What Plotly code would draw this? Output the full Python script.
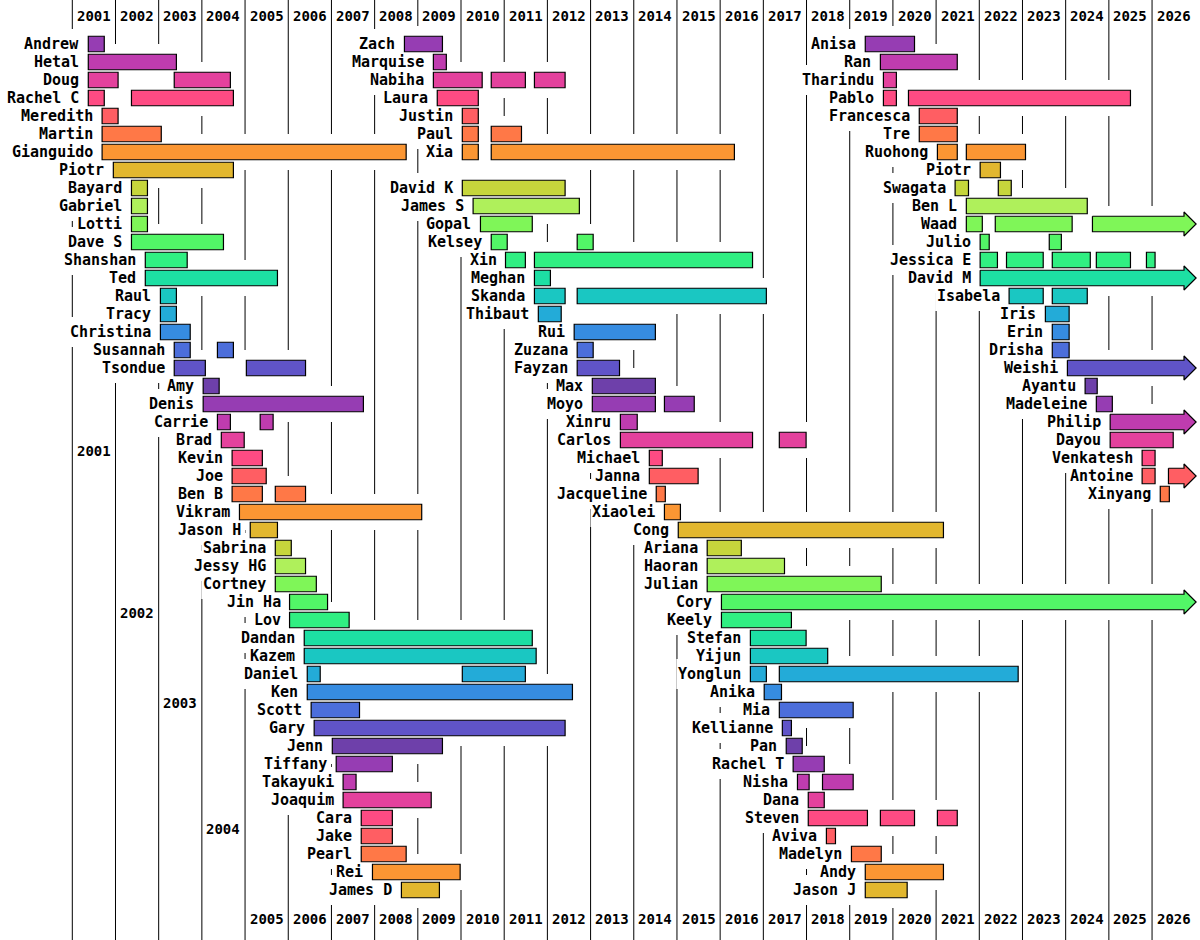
import math
import plotly.graph_objects as go

# ---- data -------------------------------------------------------------
years = list(range(2001, 2027))

# each group fills rows from the top; "" leaves a row empty
# a span end of None means "still going" (drawn as an arrow)
left_names = ["Andrew", "Hetal", "Doug", "Rachel C", "Meredith", "Martin", "Gianguido", "Piotr",
              "Bayard", "Gabriel", "Lotti", "Dave S", "Shanshan", "Ted", "Raul", "Tracy",
              "Christina", "Susannah", "Tsondue", "Amy", "Denis", "Carrie", "Brad", "Kevin",
              "Joe", "Ben B", "Vikram", "Jason H", "Sabrina", "Jessy HG", "Cortney", "Jin Ha",
              "Lov", "Dandan", "Kazem", "Daniel", "Ken", "Scott", "Gary", "Jenn",
              "Tiffany", "Takayuki", "Joaquim", "Cara", "Jake", "Pearl", "Rei", "James D"]
left_spans = [
    [(2001.37, 2001.74)],
    [(2001.37, 2003.41)],
    [(2001.37, 2002.06), (2003.36, 2004.66)],
    [(2001.37, 2001.74), (2002.37, 2004.73)],
    [(2001.69, 2002.06)],
    [(2001.69, 2003.06)],
    [(2001.69, 2008.73)],
    [(2001.95, 2004.73)],
    [(2002.37, 2002.74)],
    [(2002.37, 2002.74)],
    [(2002.37, 2002.74)],
    [(2002.37, 2004.50)],
    [(2002.69, 2003.66)],
    [(2002.69, 2005.75)],
    [(2003.04, 2003.41)],
    [(2003.04, 2003.41)],
    [(2003.04, 2003.73)],
    [(2003.36, 2003.73), (2004.36, 2004.73)],
    [(2003.36, 2004.08), (2005.03, 2006.40)],
    [(2004.03, 2004.40)],
    [(2004.03, 2007.74)],
    [(2004.36, 2004.66), (2005.35, 2005.65)],
    [(2004.45, 2004.98)],
    [(2004.70, 2005.40)],
    [(2004.70, 2005.49)],
    [(2004.70, 2005.40), (2005.70, 2006.40)],
    [(2004.87, 2009.09)],
    [(2005.12, 2005.75)],
    [(2005.70, 2006.07)],
    [(2005.70, 2006.40)],
    [(2005.70, 2006.65)],
    [(2006.03, 2006.91)],
    [(2006.03, 2007.41)],
    [(2006.37, 2011.65)],
    [(2006.37, 2011.74)],
    [(2006.44, 2006.74), (2010.03, 2011.49)],
    [(2006.44, 2012.58)],
    [(2006.53, 2007.65)],
    [(2006.60, 2012.41)],
    [(2007.02, 2009.57)],
    [(2007.11, 2008.41)],
    [(2007.27, 2007.57)],
    [(2007.27, 2009.31)],
    [(2007.69, 2008.41)],
    [(2007.69, 2008.41)],
    [(2007.69, 2008.73)],
    [(2007.95, 2009.98)],
    [(2008.62, 2009.50)],
]

middle_names = ["Zach", "Marquise", "Nabiha", "Laura", "Justin", "Paul", "Xia", "",
                "David K", "James S", "Gopal", "Kelsey", "Xin", "Meghan", "Skanda", "Thibaut",
                "Rui", "Zuzana", "Fayzan", "Max", "Moyo", "Xinru", "Carlos", "Michael",
                "Janna", "Jacqueline", "Xiaolei", "Cong", "Ariana", "Haoran", "Julian", "Cory",
                "Keely", "Stefan", "Yijun", "Yonglun", "Anika", "Mia", "Kellianne", "Pan",
                "Rachel T", "Nisha", "Dana", "Steven", "Aviva", "Madelyn", "Andy", "Jason J"]
middle_spans = [
    [(2008.69, 2009.57)],
    [(2009.36, 2009.66)],
    [(2009.36, 2010.49), (2010.70, 2011.49), (2011.70, 2012.41)],
    [(2009.45, 2010.40)],
    [(2010.03, 2010.40)],
    [(2010.03, 2010.40), (2010.70, 2011.40)],
    [(2010.03, 2010.40), (2010.70, 2016.33)],
    [],
    [(2010.03, 2012.41)],
    [(2010.28, 2012.74)],
    [(2010.45, 2011.65)],
    [(2010.70, 2011.07), (2012.69, 2013.06)],
    [(2011.03, 2011.49), (2011.70, 2016.75)],
    [(2011.70, 2012.07)],
    [(2011.70, 2012.41), (2012.69, 2017.07)],
    [(2011.79, 2012.32)],
    [(2012.62, 2014.50)],
    [(2012.69, 2013.06)],
    [(2012.69, 2013.67)],
    [(2013.04, 2014.50)],
    [(2013.04, 2014.50), (2014.71, 2015.40)],
    [(2013.69, 2014.08)],
    [(2013.69, 2016.75), (2017.37, 2017.99)],
    [(2014.36, 2014.66)],
    [(2014.36, 2015.49)],
    [(2014.52, 2014.73)],
    [(2014.71, 2015.08)],
    [(2015.03, 2021.17)],
    [(2015.70, 2016.49)],
    [(2015.70, 2017.49)],
    [(2015.70, 2019.73)],
    [(2016.03, None)],
    [(2016.03, 2017.65)],
    [(2016.70, 2017.99)],
    [(2016.70, 2018.49)],
    [(2016.70, 2017.07), (2017.37, 2022.90)],
    [(2017.02, 2017.42)],
    [(2017.37, 2019.08)],
    [(2017.44, 2017.65)],
    [(2017.53, 2017.90)],
    [(2017.69, 2018.41)],
    [(2017.79, 2018.06), (2018.37, 2019.08)],
    [(2018.04, 2018.41)],
    [(2018.04, 2019.41), (2019.71, 2020.50), (2021.03, 2021.49)],
    [(2018.46, 2018.67)],
    [(2019.04, 2019.73)],
    [(2019.36, 2021.17)],
    [(2019.36, 2020.33)],
]

right_names = ["Anisa", "Ran", "Tharindu", "Pablo", "Francesca", "Tre", "Ruohong", "Piotr",
               "Swagata", "Ben L", "Waad", "Julio", "Jessica E", "David M", "Isabela", "Iris",
               "Erin", "Drisha", "Weishi", "Ayantu", "Madeleine", "Philip", "Dayou", "Venkatesh",
               "Antoine", "Xinyang"]
right_spans = [
    [(2019.36, 2020.50)],
    [(2019.71, 2021.49)],
    [(2019.78, 2020.08)],
    [(2019.78, 2020.08), (2020.36, 2025.50)],
    [(2020.61, 2021.49)],
    [(2020.61, 2021.49)],
    [(2021.03, 2021.49), (2021.70, 2023.07)],
    [(2022.02, 2022.49)],
    [(2021.44, 2021.75), (2022.44, 2022.74)],
    [(2021.70, 2024.50)],
    [(2021.70, 2022.07), (2022.37, 2024.15), (2024.62, None)],
    [(2022.02, 2022.23), (2023.62, 2023.90)],
    [(2022.02, 2022.42), (2022.63, 2023.48), (2023.69, 2024.57), (2024.71, 2025.50), (2025.87, 2026.07)],
    [(2022.02, None)],
    [(2022.69, 2023.48), (2023.69, 2024.50)],
    [(2023.53, 2024.08)],
    [(2023.69, 2024.08)],
    [(2023.69, 2024.08)],
    [(2024.04, None)],
    [(2024.45, 2024.73)],
    [(2024.71, 2025.08)],
    [(2025.03, None)],
    [(2025.03, 2026.49)],
    [(2025.77, 2026.07)],
    [(2025.77, 2026.07), (2026.38, None)],
    [(2026.19, 2026.40)],
]

# rows where the year labels of the first columns sit (the rest go along the bottom)
early_year_rows = {2001: 22.6, 2002: 31.6, 2003: 36.6, 2004: 43.6}

# ---- layout constants -------------------------------------------------
W, H = 1200, 940
PX_YEAR = 43.19            # pixels per year
PX_ROW = 18                # pixels per row
X0 = 2001 - 72.3 / PX_YEAR
X1 = X0 + W / PX_YEAR
Y0 = -44 / PX_ROW
Y1 = Y0 + H / PX_ROW
BAR_W = 0.86
HEAD_H = 0.667
BODY_END = 2026.74
TIP = 2027.02
PAD = 3 / PX_YEAR
LABEL_GAP_PX = 8
CHAR_PX = 9.0
FONT = "DejaVu Sans Mono"


def rainbow(t):
    # d3.interpolateRainbow (cubehelix)
    t = t % 1.0
    ts = abs(t - 0.5)
    h = math.radians(360 * t - 100 + 120)
    s = 1.5 - 1.5 * ts
    l = 0.8 - 0.9 * ts
    a = s * l * (1 - l)
    c, sn = math.cos(h), math.sin(h)
    rgb = [l + a * (-0.14861 * c + 1.78277 * sn),
           l + a * (-0.29227 * c - 0.90649 * sn),
           l + a * (1.97294 * c)]
    r, g, b = [max(0, min(255, round(255 * v))) for v in rgb]
    return f"rgb({r},{g},{b})"


def row_color(r):
    return rainbow((r + 1) / 20)


fig = go.Figure()
shapes = []
annotations = []

# vertical year lines
for yr in years:
    shapes.append(dict(type="line", x0=yr, x1=yr, y0=Y0, y1=Y1, layer="below",
                       line=dict(color="black", width=1)))

bar_y, bar_base, bar_len, bar_col = [], [], [], []
occluders = []

for names, spans in [(left_names, left_spans), (middle_names, middle_spans), (right_names, right_spans)]:
    for row, (name, segs) in enumerate(zip(names, spans)):
        if not name:
            continue
        col = row_color(row)
        first = segs[0][0]
        # name label
        annotations.append(dict(x=first, y=row, text=name, xanchor="right", yanchor="middle",
                                xshift=-7, showarrow=False,
                                font=dict(family=FONT, size=15, color="black", weight="bold")))
        text_w = (LABEL_GAP_PX + len(name) * CHAR_PX) / PX_YEAR
        occluders.append((first - text_w - PAD, first - LABEL_GAP_PX / PX_YEAR + PAD,
                          row - 0.83, row + 0.83))
        for start, end in segs:
            if end is None:
                hh = BAR_W / 2
                xs = [start, BODY_END, BODY_END, TIP, BODY_END, BODY_END, start, start]
                ys = [row - hh, row - hh, row - HEAD_H, row, row + HEAD_H, row + hh, row + hh, row - hh]
                fig.add_trace(go.Scatter(x=xs, y=ys, mode="lines", fill="toself", fillcolor=col,
                                         line=dict(color="black", width=1.2), hoverinfo="skip",
                                         showlegend=False))
                occluders.append((start - PAD, TIP + PAD, row - 1, row + 1))
            else:
                bar_y.append(row)
                bar_base.append(start)
                bar_len.append(end - start)
                bar_col.append(col)
                occluders.append((start - PAD, end + PAD, row - 1, row + 1))

for x0, x1, y0, y1 in occluders:
    shapes.append(dict(type="rect", x0=x0, x1=x1, y0=y0, y1=y1, layer="below",
                       fillcolor="white", line=dict(width=0)))

fig.add_trace(go.Bar(orientation="h", y=bar_y, x=bar_len, base=bar_base, width=BAR_W,
                     marker=dict(color=bar_col, line=dict(color="black", width=1.2)),
                     hoverinfo="skip", showlegend=False))

# year labels: top row, bottom row, and the staircase for the early years
year_font = dict(family=FONT, size=14, color="black", weight="bold")
for yr in years:
    annotations.append(dict(x=yr + 0.5, y=-1.55, text=str(yr), showarrow=False,
                            xanchor="center", yanchor="middle", font=year_font))
    annotations.append(dict(x=yr + 0.5, y=early_year_rows.get(yr, 48.6), text=str(yr),
                            showarrow=False, xanchor="center", yanchor="middle", font=year_font))

fig.update_layout(
    width=W, height=H,
    margin=dict(l=0, r=0, t=0, b=0),
    paper_bgcolor="white", plot_bgcolor="white",
    barmode="overlay",
    showlegend=False,
    xaxis=dict(range=[X0, X1], visible=False, fixedrange=True),
    yaxis=dict(range=[Y1, Y0], visible=False, fixedrange=True),
    shapes=shapes,
    annotations=annotations,
)

fig.write_html("out.html", config={"displayModeBar": False},
               post_script="document.body.style.margin='0px';")
